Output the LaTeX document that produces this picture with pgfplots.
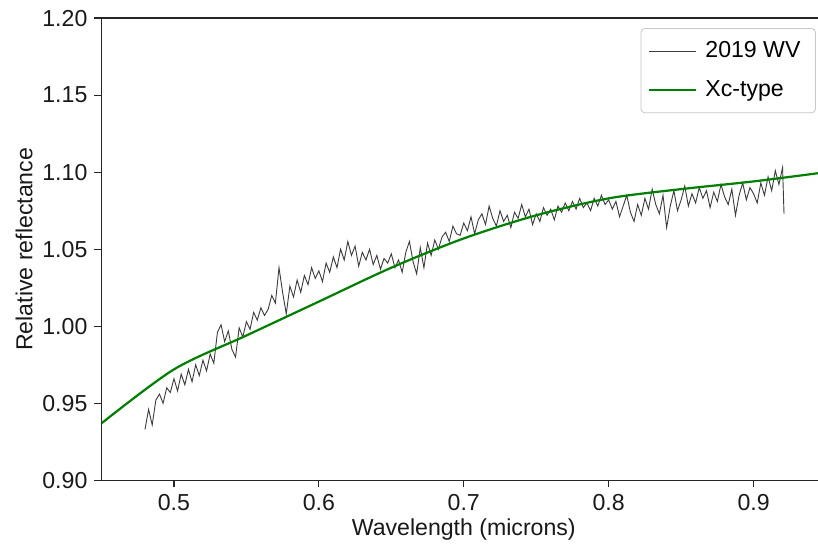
\documentclass[border=0pt]{standalone}
\usepackage{fontspec}
\setmainfont{Liberation Sans}
\usepackage{pgfplots}
\pgfplotsset{compat=1.18}
\definecolor{specgray}{RGB}{60,60,60}
\definecolor{mplgreen}{RGB}{0,128,0}

\begin{document}
\begin{tikzpicture}
\begin{axis}[
    name=main,
    scale only axis,
    width=360.5pt, height=230pt,
    xmin=0.45, xmax=0.95,
    ymin=0.90, ymax=1.20,
    xtick={0.5,0.6,0.7,0.8,0.9},
    ytick={0.90,0.95,1.00,1.05,1.10,1.15,1.20},
    xticklabel style={/pgf/number format/.cd, fixed, fixed zerofill, precision=1},
    yticklabel style={/pgf/number format/.cd, fixed, fixed zerofill, precision=2},
    /pgf/number format/assume math mode=true,
    axis lines=box,
    tick align=outside,
    tick pos=left,
    major tick length=3.5pt,
    tick style={black!85, line width=0.6pt},
    axis line style={black!85, line width=0.7pt},
    ticklabel style={font=\fontsize{11.5}{13}\selectfont, text=black!90},
    xlabel={Wavelength (microns)},
    ylabel={Relative reflectance},
    label style={font=\fontsize{11.5}{13}\selectfont, text=black!90},
    xlabel style={yshift=3pt},
    ylabel style={yshift=-2pt},
    legend style={at={(rel axis cs:1,1)}, anchor=north east,
        xshift=-5pt, yshift=-5pt,
        draw=black!22, rounded corners=2pt, fill=white,
        font=\fontsize{11.5}{13}\selectfont,
        inner xsep=3.5pt, inner ysep=4.5pt, row sep=6pt,
        nodes={inner xsep=4pt, inner ysep=2pt}},
    legend cell align=left,
    legend image code/.code={\draw[#1] (0pt,0pt) -- (23.5pt,0pt);},
]

\addplot[specgray, line width=0.45pt] coordinates {
(0.4800,0.933) (0.4825,0.946) (0.4850,0.936) (0.4875,0.952) (0.4900,0.956)
(0.4925,0.950) (0.4950,0.960) (0.4975,0.957) (0.5000,0.966) (0.5025,0.958)
(0.5050,0.969) (0.5075,0.962) (0.5100,0.972) (0.5125,0.964) (0.5150,0.975)
(0.5175,0.968) (0.5200,0.978) (0.5225,0.971) (0.5250,0.982) (0.5275,0.976)
(0.5300,0.996) (0.5325,1.001) (0.5350,0.990) (0.5375,0.997) (0.5400,0.985)
(0.5425,0.980) (0.5450,0.999) (0.5475,0.993) (0.5500,1.003) (0.5525,0.998)
(0.5550,1.009) (0.5575,1.004) (0.5600,1.012) (0.5625,1.007) (0.5650,1.011)
(0.5675,1.020) (0.5700,1.015) (0.5725,1.038) (0.5750,1.022) (0.5775,1.008)
(0.5800,1.026) (0.5825,1.019) (0.5850,1.030) (0.5875,1.022) (0.5900,1.033)
(0.5925,1.027) (0.5950,1.038) (0.5975,1.031) (0.6000,1.036) (0.6025,1.029)
(0.6050,1.041) (0.6075,1.035) (0.6100,1.045) (0.6125,1.038) (0.6150,1.050)
(0.6175,1.043) (0.6200,1.055) (0.6225,1.046) (0.6250,1.052) (0.6275,1.039)
(0.6300,1.048) (0.6325,1.043) (0.6350,1.050) (0.6375,1.040) (0.6400,1.046)
(0.6425,1.037) (0.6450,1.044) (0.6475,1.041) (0.6500,1.047) (0.6525,1.038)
(0.6550,1.043) (0.6575,1.035) (0.6600,1.048) (0.6625,1.055) (0.6650,1.042)
(0.6675,1.034) (0.6700,1.051) (0.6725,1.038) (0.6750,1.054) (0.6775,1.046)
(0.6800,1.056) (0.6825,1.050) (0.6850,1.058) (0.6875,1.061) (0.6900,1.055)
(0.6925,1.065) (0.6950,1.060) (0.6975,1.059) (0.7000,1.067) (0.7025,1.062)
(0.7050,1.071) (0.7075,1.060) (0.7100,1.069) (0.7125,1.073) (0.7150,1.066)
(0.7175,1.078) (0.7200,1.070) (0.7225,1.065) (0.7250,1.075) (0.7275,1.068)
(0.7300,1.072) (0.7325,1.064) (0.7350,1.074) (0.7375,1.070) (0.7400,1.079)
(0.7425,1.071) (0.7450,1.076) (0.7475,1.066) (0.7500,1.073) (0.7525,1.068)
(0.7550,1.077) (0.7575,1.072) (0.7600,1.076) (0.7625,1.069) (0.7650,1.078)
(0.7675,1.074) (0.7700,1.080) (0.7725,1.075) (0.7750,1.081) (0.7775,1.076)
(0.7800,1.083) (0.7825,1.077) (0.7850,1.080) (0.7875,1.075) (0.7900,1.083)
(0.7925,1.078) (0.7950,1.085) (0.7975,1.079) (0.8000,1.082) (0.8025,1.076)
(0.8050,1.081) (0.8075,1.071) (0.8100,1.078) (0.8125,1.085) (0.8150,1.074)
(0.8175,1.068) (0.8200,1.079) (0.8225,1.072) (0.8250,1.083) (0.8275,1.076)
(0.8300,1.089) (0.8325,1.079) (0.8350,1.073) (0.8375,1.085) (0.8400,1.064)
(0.8425,1.078) (0.8450,1.088) (0.8475,1.075) (0.8500,1.082) (0.8525,1.091)
(0.8550,1.078) (0.8575,1.086) (0.8600,1.080) (0.8625,1.090) (0.8650,1.083)
(0.8675,1.088) (0.8700,1.077) (0.8725,1.087) (0.8750,1.081) (0.8775,1.092)
(0.8800,1.084) (0.8825,1.079) (0.8850,1.089) (0.8875,1.072) (0.8900,1.085)
(0.8925,1.093) (0.8950,1.082) (0.8975,1.090) (0.9000,1.086) (0.9025,1.080)
(0.9050,1.093) (0.9075,1.085) (0.9100,1.097) (0.9125,1.088) (0.9150,1.101)
(0.9175,1.092) (0.9200,1.103) (0.9210,1.073)
};
\addlegendentry{2019 WV}

\addplot[mplgreen, line width=1.1pt, smooth] coordinates {
(0.45,0.937) (0.50,0.972) (0.55,0.994) (0.60,1.016) (0.65,1.038)
(0.70,1.057) (0.75,1.072) (0.80,1.083) (0.85,1.089) (0.90,1.094) (0.95,1.100)
};
\addlegendentry{Xc-type}

\end{axis}
\draw[black!85, line width=0.8pt] (main.north west) -- (main.north east);
\pgfresetboundingbox
\path ([xshift=-50.5pt,yshift=-33pt]main.south west) rectangle ([xshift=-4pt,yshift=9pt]main.north east);
\end{tikzpicture}
\end{document}
